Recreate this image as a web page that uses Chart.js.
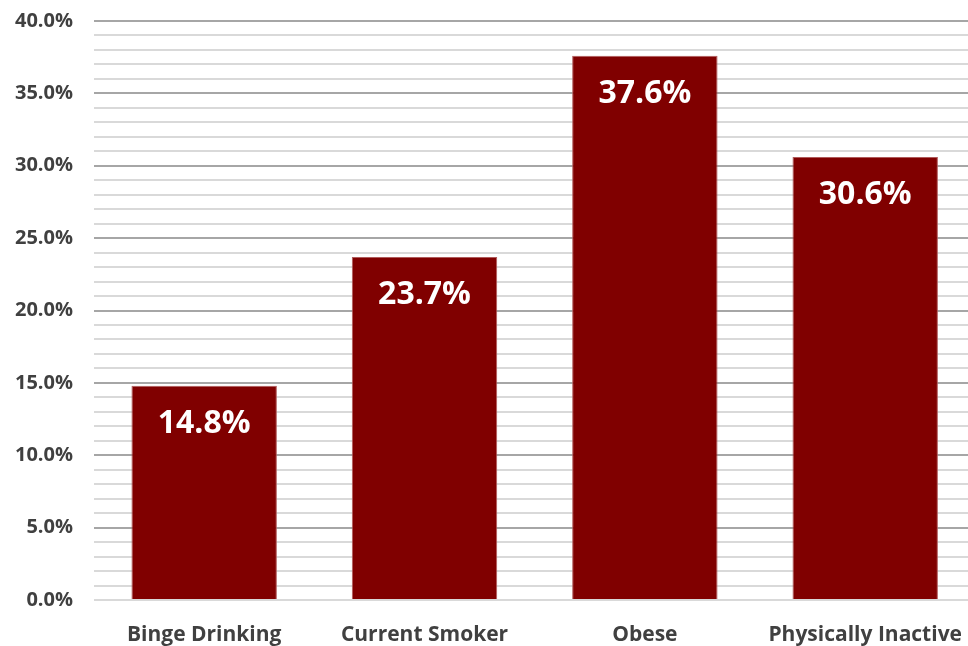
<!DOCTYPE html>
<html>
<head>
<meta charset="utf-8">
<script src="https://cdn.jsdelivr.net/npm/chart.js@4"></script>
<style>
  html, body { margin: 0; padding: 0; background: #fff; overflow: hidden; }
  #wrap { width: 976px; height: 658px; margin-top: -12px; }
</style>
</head>
<body>
<div id="wrap"><canvas id="chart"></canvas></div>
<script>
const categories = ['Binge Drinking', 'Current Smoker', 'Obese', 'Physically Inactive'];
const values = [14.8, 23.7, 37.6, 30.6];
const yMin = 0;
const yMax = 40;

const barLabels = {
  id: 'barLabels',
  afterDatasetsDraw(chart) {
    const ctx = chart.ctx;
    const meta = chart.getDatasetMeta(0);
    ctx.save();
    ctx.fillStyle = '#ffffff';
    ctx.font = 'bold 32px "Open Sans"';
    ctx.textAlign = 'center';
    ctx.textBaseline = 'middle';
    meta.data.forEach((bar, i) => {
      ctx.fillText(values[i].toFixed(1) + '%', bar.x, bar.y + 38);
    });
    ctx.restore();
  }
};

new Chart(document.getElementById('chart').getContext('2d'), {
  type: 'bar',
  data: {
    labels: categories,
    datasets: [{
      data: values,
      backgroundColor: '#800000',
      borderColor: '#b05a5a',
      borderWidth: 1,
      categoryPercentage: 1,
      barPercentage: 0.66
    }]
  },
  options: {
    responsive: true,
    maintainAspectRatio: false,
    animation: false,
    layout: { padding: { top: 10, right: 0, left: 0, bottom: 0 } },
    plugins: { legend: { display: false }, tooltip: { enabled: false } },
    scales: {
      x: {
        grid: { display: false },
        border: { display: false },
        ticks: {
          color: '#404040',
          font: { family: '"Open Sans"', size: 21, weight: 'bold' },
          padding: 14,
          maxRotation: 0
        },
        afterFit(scale) { scale.height = 46; }
      },
      y: {
        min: yMin,
        max: yMax,
        border: { display: false },
        grid: {
          drawTicks: false,
          lineWidth: 2,
          color: (c) => (c.tick && c.tick.value % 5 === 0 && c.tick.value !== 0) ? '#a6a6a6' : '#d9d9d9'
        },
        ticks: {
          stepSize: 1,
          autoSkip: false,
          color: '#404040',
          font: { family: '"Open Sans"', size: 20, weight: 'bold' },
          padding: 21,
          callback: (v) => v % 5 === 0 ? v.toFixed(1) + '%' : ''
        },
        afterFit(scale) { scale.width = 94; }
      }
    }
  },
  plugins: [barLabels]
});
</script>
</body>
</html>
